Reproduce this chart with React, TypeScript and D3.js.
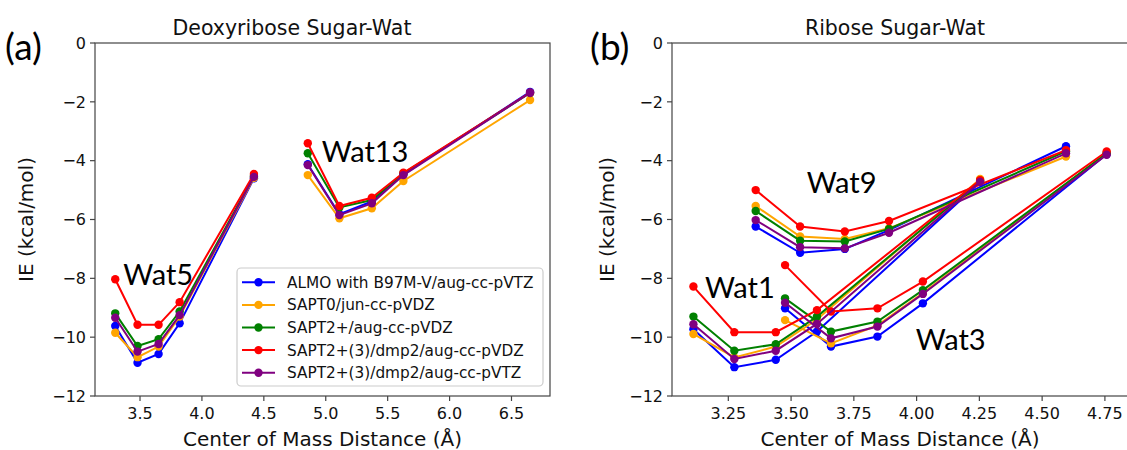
import React from "react";
import * as d3 from "d3";

// ---------- data ----------
const methods = [
  "ALMO with B97M-V/aug-cc-pVTZ",
  "SAPT0/jun-cc-pVDZ",
  "SAPT2+/aug-cc-pVDZ",
  "SAPT2+(3)/dmp2/aug-cc-pVDZ",
  "SAPT2+(3)/dmp2/aug-cc-pVTZ",
];
const colors = ["#0000ff", "#ffa500", "#008000", "#ff0000", "#800080"];

const yTicks = [0, -2, -4, -6, -8, -10, -12];
const xTicksA = [3.5, 4.0, 4.5, 5.0, 5.5, 6.0, 6.5];
const xTicksB = [3.25, 3.5, 3.75, 4.0, 4.25, 4.5, 4.75];

// (a) Deoxyribose
const wat5X = [3.3, 3.48, 3.65, 3.82, 4.42];
const wat5Y = [
  [-9.62, -10.87, -10.57, -9.53, -4.6],
  [-9.85, -10.68, -10.32, -9.3, -4.58],
  [-9.19, -10.3, -10.07, -9.13, -4.52],
  [-8.03, -9.58, -9.58, -8.81, -4.45],
  [-9.34, -10.49, -10.23, -9.25, -4.55],
];
const wat13X = [4.855, 5.11, 5.372, 5.627, 6.65];
const wat13Y = [
  [-4.12, -5.82, -5.39, -4.47, -1.66],
  [-4.49, -5.96, -5.62, -4.69, -1.94],
  [-3.75, -5.59, -5.34, -4.43, -1.7],
  [-3.41, -5.54, -5.26, -4.41, -1.69],
  [-4.15, -5.85, -5.45, -4.49, -1.69],
];

// (b) Ribose
const wat1X = [3.111, 3.274, 3.439, 3.603, 4.253];
const wat1Y = [
  [-9.73, -11.02, -10.77, -9.81, -4.73],
  [-9.89, -10.69, -10.32, -9.4, -4.62],
  [-9.3, -10.46, -10.24, -9.3, -4.68],
  [-8.28, -9.83, -9.83, -9.08, -4.66],
  [-9.56, -10.74, -10.46, -9.55, -4.72],
];
const wat9X = [3.359, 3.536, 3.714, 3.89, 4.595];
const wat9Y = [
  [-6.24, -7.13, -7.0, -6.36, -3.51],
  [-5.54, -6.58, -6.66, -6.3, -3.86],
  [-5.71, -6.72, -6.75, -6.32, -3.68],
  [-5.0, -6.24, -6.41, -6.05, -3.64],
  [-6.02, -6.94, -6.98, -6.45, -3.75],
];
const wat3X = [3.476, 3.659, 3.844, 4.025, 4.757];
const wat3Y = [
  [-9.02, -10.32, -9.98, -8.85, -3.78],
  [-9.42, -10.21, -9.6, -8.5, -3.75],
  [-8.68, -9.81, -9.47, -8.4, -3.75],
  [-7.55, -9.13, -9.02, -8.11, -3.69],
  [-8.83, -10.04, -9.64, -8.53, -3.8],
];

const labelsA = [
  { text: "Wat5", x: 3.365, y: -8.23 },
  { text: "Wat13", x: 4.968, y: -4.05 },
];
const labelsB = [
  { text: "Wat9", x: 3.562, y: -5.09 },
  { text: "Wat1", x: 3.157, y: -8.68 },
  { text: "Wat3", x: 3.997, y: -10.43 },
];

// ---------- layout ----------
const W = 1127;
const H = 450;
const top = 43;
const bottom = 396;
const FONT = "DejaVu Sans, sans-serif";
const ANNOT = "Lato, 'Open Sans', sans-serif";

type Cluster = { x: number[]; y: number[][] };

function Panel(props: {
  left: number;
  right: number;
  xDomain: [number, number];
  xTicks: number[];
  fmt: string;
  clusters: Cluster[];
  labels: { text: string; x: number; y: number }[];
  title: string;
  titleX: number;
  tag: string;
  tagX: number;
  ylabelX: number;
  legend?: boolean;
}) {
  const x = d3.scaleLinear().domain(props.xDomain).range([props.left, props.right]);
  const y = d3.scaleLinear().domain([-12, 0]).range([bottom, top]);
  const line = d3
    .line<[number, number]>()
    .x((d) => x(d[0]))
    .y((d) => y(d[1]));
  const fmt = d3.format(props.fmt);
  const minus = (s: string) => s.replace("-", "\u2212");

  return (
    <g>
      {methods.map((m, mi) => (
        <g key={m}>
          {props.clusters.map((c, ci) => {
            const pts = c.x.map((xv, i) => [xv, c.y[mi][i]] as [number, number]);
            return (
              <g key={ci}>
                <path d={line(pts) || ""} fill="none" stroke={colors[mi]} strokeWidth={2} />
                {pts.map((p, i) => (
                  <circle key={i} cx={x(p[0])} cy={y(p[1])} r={4.2} fill={colors[mi]} />
                ))}
              </g>
            );
          })}
        </g>
      ))}
      <rect
        x={props.left}
        y={top}
        width={props.right - props.left}
        height={bottom - top}
        fill="none"
        stroke="#444"
        strokeWidth={1.2}
      />
      {yTicks.map((t) => (
        <g key={t}>
          <line x1={props.left - 5} x2={props.left} y1={y(t)} y2={y(t)} stroke="#444" strokeWidth={1.2} />
          <text
            x={props.left - 9}
            y={y(t)}
            dy="0.36em"
            textAnchor="end"
            fontFamily={FONT}
            fontSize={16}
            fill="#111"
          >
            {minus(String(t))}
          </text>
        </g>
      ))}
      {props.xTicks.map((t) => (
        <g key={t}>
          <line x1={x(t)} x2={x(t)} y1={bottom} y2={bottom + 5} stroke="#444" strokeWidth={1.2} />
          <text x={x(t)} y={bottom + 23} textAnchor="middle" fontFamily={FONT} fontSize={16} fill="#111">
            {fmt(t)}
          </text>
        </g>
      ))}
      <text
        x={(props.left + props.right) / 2}
        y={446}
        textAnchor="middle"
        fontFamily={FONT}
        fontSize={20}
        fill="#111"
      >
        Center of Mass Distance (Å)
      </text>
      <text
        transform={`translate(${props.ylabelX},${(top + bottom) / 2}) rotate(-90)`}
        textAnchor="middle"
        fontFamily={FONT}
        fontSize={20}
        fill="#111"
      >
        IE (kcal/mol)
      </text>
      <text x={props.titleX} y={35} textAnchor="middle" fontFamily={FONT} fontSize={20.5} fill="#111">
        {props.title}
      </text>
      <text x={props.tagX} y={60} fontFamily={ANNOT} fontSize={37} fill="#000">
        {props.tag}
      </text>
      {props.labels.map((l) => (
        <text key={l.text} x={x(l.x)} y={y(l.y)} fontFamily={ANNOT} fontSize={29} fill="#000">
          {l.text}
        </text>
      ))}
      {props.legend && (
        <g>
          <rect x={237} y={268} width={306} height={118} rx={4} fill="#fff" fillOpacity={0.85} stroke="#ccc" strokeWidth={1.2} />
          {methods.map((m, i) => {
            const ly = 282.3 + i * 22.6;
            return (
              <g key={m}>
                <line x1={242} x2={275} y1={ly} y2={ly} stroke={colors[i]} strokeWidth={2} />
                <circle cx={258.5} cy={ly} r={4.2} fill={colors[i]} />
                <text x={287} y={ly} dy="0.36em" fontFamily={FONT} fontSize={15.3} fill="#111">
                  {m}
                </text>
              </g>
            );
          })}
        </g>
      )}
    </g>
  );
}

export default function App() {
  return (
    <svg
      width={W}
      height={H}
      style={{ position: "absolute", left: 0, top: 0, background: "#fff" }}
    >
      <rect x={0} y={0} width={W} height={H} fill="#fff" />
      <Panel
        left={95}
        right={550}
        xDomain={[3.1365, 6.811]}
        xTicks={xTicksA}
        fmt=".1f"
        clusters={[
          { x: wat5X, y: wat5Y },
          { x: wat13X, y: wat13Y },
        ]}
        labels={labelsA}
        title="Deoxyribose Sugar-Wat"
        titleX={292}
        tag="(a)"
        tagX={5}
        ylabelX={33}
        legend
      />
      <Panel
        left={672}
        right={1128}
        xDomain={[3.0257, 4.842]}
        xTicks={xTicksB}
        fmt=".2f"
        clusters={[
          { x: wat1X, y: wat1Y },
          { x: wat9X, y: wat9Y },
          { x: wat3X, y: wat3Y },
        ]}
        labels={labelsB}
        title="Ribose Sugar-Wat"
        titleX={895}
        tag="(b)"
        tagX={590}
        ylabelX={614}
      />
    </svg>
  );
}
